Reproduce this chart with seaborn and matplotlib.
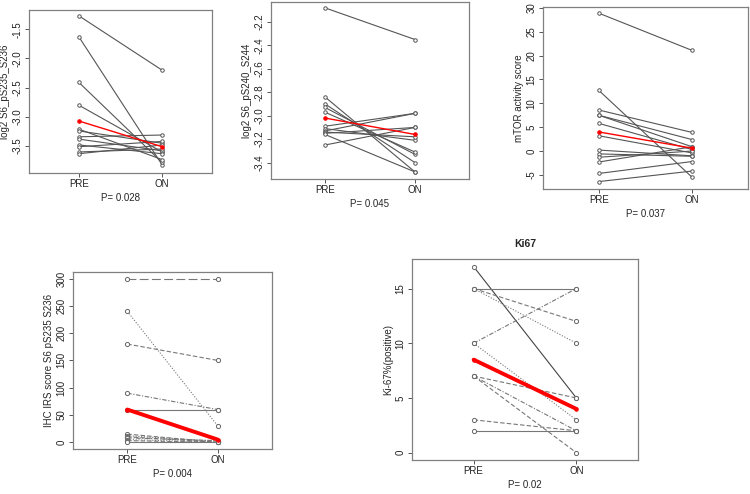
import matplotlib
matplotlib.use("Agg")
import matplotlib.pyplot as plt
import seaborn as sns
import pandas as pd

# values (PRE -> ON per patient)
time_labels = ["PRE", "ON"]

s6a_pre = [-1.27, -1.63, -2.41, -2.80, -3.21, -3.24, -3.34, -3.38, -3.48, -3.51, -3.60, -3.63]
s6a_on = [-2.20, -3.82, -3.78, -3.60, -3.73, -3.45, -3.31, -3.58, -3.63, -3.42, -3.55, -3.48]
s6a_red = [-3.07, -3.51]

s6b_pre = [-2.08, -2.84, -2.90, -2.93, -2.97, -3.09, -3.11, -3.13, -3.14, -3.15, -3.16, -3.25]
s6b_on = [-2.35, -3.48, -3.40, -3.33, -3.31, -2.98, -3.21, -2.98, -3.18, -3.10, -3.48, -3.10]
s6b_red = [-3.02, -3.16]

mtor_pre = [28.9, 12.7, 8.6, 7.5, 7.5, 5.8, 3.2, 0.2, -0.6, -1.3, -2.3, -4.7, -6.4]
mtor_on = [21.1, -5.5, 3.9, 2.4, 0.9, 0.3, -0.4, -1.0, -1.1, 0.0, 0.9, -2.2, -4.2]
mtor_red = [4.0, 0.6]

ihc_pre = [300, 240, 180, 90, 60, 15, 12, 10, 8, 5, 3, 0]
ihc_on = [300, 30, 150, 60, 60, 0, 2, 0, 3, 0, 0, 0]
ihc_red = [60, 5]
ihc_dash = ["long", "dot", "dash", "dashdot", "solid", "dash", "dot", "dash", "dashdot", "dot", "dash", "solid"]

ki_pre = [17, 15, 15, 15, 10, 10, 7, 7, 7, 3, 2]
ki_on = [5, 15, 12, 10, 15, 3, 5, 2, 0, 2, 2]
ki_red = [8.5, 4]
ki_dash = ["solid", "solid", "dash", "dot", "dashdot", "dot", "dash", "dashdot", "dash", "dash", "solid"]

dash_specs = {"solid": "", "dash": (4, 2), "long": (8, 3), "dot": (1, 1.5), "dashdot": (4, 1.5, 1, 1.5)}

sns.set_style("white")
plt.rcParams["font.family"] = ["Liberation Sans", "DejaVu Sans"]
plt.rcParams["font.size"] = 7

W, H = 750, 494
fig = plt.figure(figsize=(W / 100, H / 100), dpi=100)


def make_ax(left, top, right, bottom):
    return fig.add_axes([left / W, 1 - bottom / H, (right - left) / W, (bottom - top) / H])


def pairs_df(pre, on):
    rows = []
    for i, (a, b) in enumerate(zip(pre, on)):
        rows.append({"pid": i, "x": 1, "v": a})
        rows.append({"pid": i, "x": 2, "v": b})
    return pd.DataFrame(rows)


def draw_panel(ax, pre, on, red, ylabel, ptxt, ylim, yticks, yfmt,
               styles=None, red_lw=1.0, line_color="#555555"):
    df = pairs_df(pre, on)
    if styles is None:
        sns.lineplot(data=df, x="x", y="v", units="pid", estimator=None, ax=ax,
                     color=line_color, lw=0.8, marker="o", markersize=2.5,
                     mfc="white", mec=line_color, mew=0.7, legend=False)
    else:
        pal = {i: ("#444444" if s == "solid" and pre[i] > on[i] else "#777777")
               for i, s in enumerate(styles)}
        sns.lineplot(data=df, x="x", y="v", units="pid", estimator=None, ax=ax,
                     hue="pid", palette=pal, style="pid",
                     dashes={i: dash_specs[s] for i, s in enumerate(styles)},
                     markers={i: "o" for i in range(len(styles))},
                     lw=0.8, markersize=3, mfc="white", mec="#666666", mew=0.7,
                     legend=False)
    rdf = pd.DataFrame({"x": [1, 2], "v": red})
    sns.lineplot(data=rdf, x="x", y="v", ax=ax, color="red", lw=red_lw,
                 marker="o", markersize=2.5, mfc="red", mec="red", legend=False)
    ax.set_xlim(0.4, 2.6)
    ax.set_ylim(*ylim)
    ax.set_xticks([1, 2])
    ax.set_xticklabels(time_labels)
    ax.set_yticks(yticks)
    ax.set_yticklabels([yfmt.format(t) for t in yticks], rotation=90, va="center")
    ax.set_ylabel(ylabel, labelpad=2)
    ax.set_xlabel(ptxt, labelpad=3)
    for s in ax.spines.values():
        s.set_color("#808080")
        s.set_linewidth(0.9)
    ax.tick_params(axis="both", which="both", direction="out", length=3,
                   width=0.7, color="#555555", pad=1.5, labelcolor="#222222",
                   left=True, bottom=True)
    ax.grid(False)


ax1 = make_ax(29, 10, 212, 173)
draw_panel(ax1, s6a_pre, s6a_on, s6a_red, "log2 S6_pS235_S236", "P= 0.028",
           (-3.96, -1.17), [-1.5, -2.0, -2.5, -3.0, -3.5], "{:.1f}")

ax2 = make_ax(271, 2, 469, 179)
draw_panel(ax2, s6b_pre, s6b_on, s6b_red, "log2 S6_pS240_S244", "P= 0.045",
           (-3.54, -2.03), [-2.2, -2.4, -2.6, -2.8, -3.0, -3.2, -3.4], "{:.1f}")

ax3 = make_ax(543, 7, 748, 189)
draw_panel(ax3, mtor_pre, mtor_on, mtor_red, "mTOR activity score", "P= 0.037",
           (-7.96, 30.2), [-5, 0, 5, 10, 15, 20, 25, 30], "{:d}")

ax4 = make_ax(73, 272, 272, 449)
draw_panel(ax4, ihc_pre, ihc_on, ihc_red, "IHC IRS score S6 pS235 S236", "P= 0.004",
           (-12.3, 312), [0, 50, 100, 150, 200, 250, 300], "{:d}",
           styles=ihc_dash, red_lw=2.8)

ax5 = make_ax(412, 259, 638, 460)
draw_panel(ax5, ki_pre, ki_on, ki_red, "Ki-67%(positive)", "P= 0.02",
           (-0.67, 17.7), [0, 5, 10, 15], "{:d}",
           styles=ki_dash, red_lw=2.8)
ax5.set_title("Ki67", fontweight="bold", fontsize=7.5, pad=9)

fig.savefig("out.png", dpi=100)
plt.close(fig)
